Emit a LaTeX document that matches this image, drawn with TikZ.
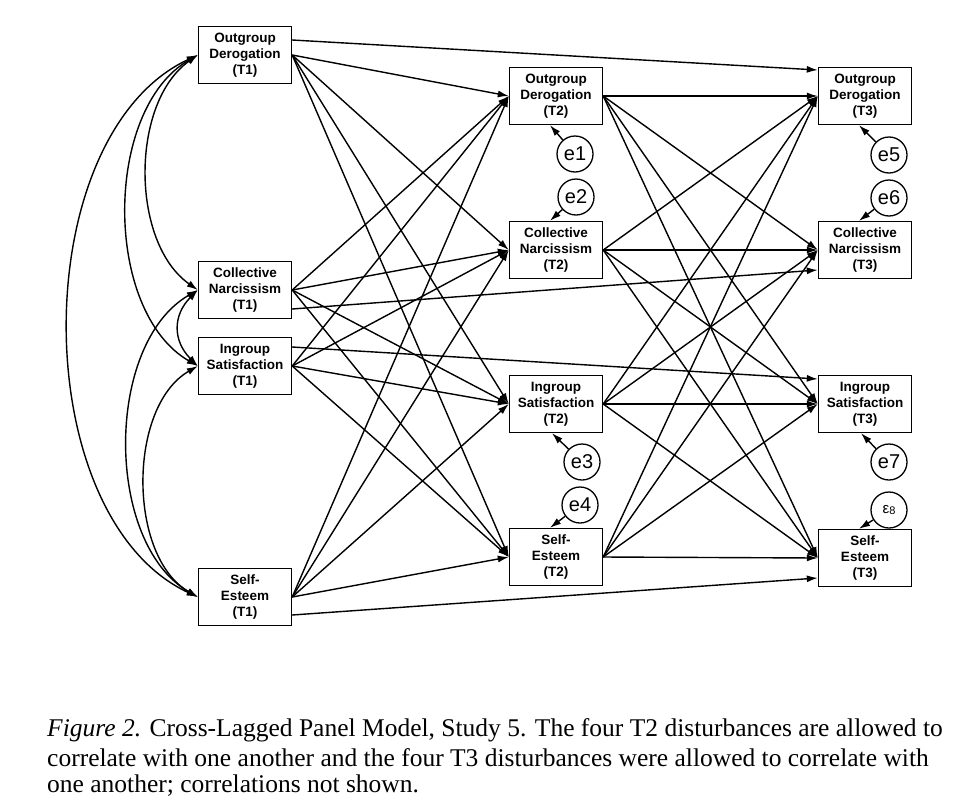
\documentclass[tikz,border=0pt]{standalone}
\usepackage{fontspec}
\setmainfont{Liberation Serif}
\newfontfamily\arial{Liberation Sans}
\usetikzlibrary{arrows.meta}
\begin{document}
\begin{tikzpicture}[x=1pt,y=-1pt,
  box/.style={draw,line width=1.4pt,minimum width=93pt,minimum height=57pt,align=center,inner sep=1pt,font=\arial\bfseries\fontsize{13.5}{16}\selectfont},
  err/.style={draw,circle,line width=1.3pt,minimum size=36pt,inner sep=0pt,font=\arial\fontsize{20}{20}\selectfont},
  arr/.style={-{Latex[length=11pt,width=7pt]},line width=1.4pt},
  cov/.style={{Latex[length=11pt,width=7pt]}-{Latex[length=11pt,width=7pt]},line width=1.4pt},
  captxt/.style={anchor=west,inner sep=0pt,font=\fontsize{25.5}{28}\selectfont}]
\useasboundingbox (0,0) rectangle (960,806);
% T1
\node[box] (od1) at (245,55) {Outgroup\\Derogation\\(T1)};
\node[box] (cn1) at (245,290) {Collective\\Narcissism\\(T1)};
\node[box] (is1) at (245,366) {Ingroup\\Satisfaction\\(T1)};
\node[box] (se1) at (245,597) {Self-\\Esteem\\(T1)};
% T2
\node[box] (od2) at (556,96) {Outgroup\\Derogation\\(T2)};
\node[box] (cn2) at (556,250) {Collective\\Narcissism\\(T2)};
\node[box] (is2) at (556,404) {Ingroup\\Satisfaction\\(T2)};
\node[box] (se2) at (556,557) {Self-\\Esteem\\(T2)};
% T3
\node[box] (od3) at (865,96) {Outgroup\\Derogation\\(T3)};
\node[box] (cn3) at (865,250) {Collective\\Narcissism\\(T3)};
\node[box] (is3) at (865,404) {Ingroup\\Satisfaction\\(T3)};
\node[box] (se3) at (865,558) {Self-\\Esteem\\(T3)};
% errors
\node[err] (e1) at (575,154) {e1};
\node[err] (e2) at (576,197) {e2};
\node[err] (e3) at (582,462) {e3};
\node[err] (e4) at (580,505) {e4};
\node[err] (e5) at (889,155) {e5};
\node[err] (e6) at (889,198) {e6};
\node[err] (e7) at (889,462) {e7};
\node[err] (e8) at (889,510) {\fontsize{15}{15}\selectfont ε\raisebox{-1pt}{\fontsize{11}{11}\selectfont 8}};
\draw[arr] (e1) -- ([xshift=-6pt]od2.south);
\draw[arr] (e2) -- ([xshift=-6pt]cn2.north);
\draw[arr] (e3) -- ([xshift=-4pt]is2.south);
\draw[arr] (e4) -- ([xshift=-6pt]se2.north);
\draw[arr] (e5) -- ([xshift=-6pt]od3.south);
\draw[arr] (e6) -- ([xshift=-6pt]cn3.north);
\draw[arr] (e7) -- ([xshift=-4pt]is3.south);
\draw[arr] (e8) -- ([xshift=-6pt]se3.north);
% cross-lagged T1->T2 and T2->T3
\foreach \a in {od,cn,is,se}{
  \foreach \b in {od,cn,is,se}{
    \draw[arr] (\a1.east) -- (\b2.west);
    \draw[arr] (\a2.east) -- (\b3.west);
  }}
% long T1->T3
\draw[arr] ([yshift=15pt]od1.east) -- ([yshift=26pt]od3.west);
\draw[arr] ([yshift=-19pt]cn1.east) -- ([yshift=-20pt]cn3.west);
\draw[arr] ([yshift=19pt]is1.east) -- ([yshift=25pt]is3.west);
\draw[arr] ([yshift=-18pt]se1.east) -- ([yshift=-20pt]se3.west);
% covariances
\draw[cov] (od1.west) to[out=215,in=145,looseness=0.9] (cn1.west);
\draw[cov] (od1.west) to[out=210,in=150,looseness=0.9] (is1.west);
\draw[cov] (od1.west) to[out=205,in=155,looseness=0.9] (se1.west);
\draw[cov] (cn1.west) to[out=225,in=135,looseness=1.2] (is1.west);
\draw[cov] (cn1.west) to[out=210,in=150,looseness=0.9] (se1.west);
\draw[cov] (is1.west) to[out=210,in=150,looseness=0.9] (se1.west);
% caption
\node[captxt] (c1) at (47,730) {\textit{Figure 2.} Cross-Lagged Panel Model, Study 5. The four T2 disturbances are allowed to};
\node[captxt] (c2) at (47,758) {correlate with one another and the four T3 disturbances were allowed to correlate with};
\node[captxt] (c3) at (47,786) {one another; correlations not shown.};
\end{tikzpicture}
\end{document}
